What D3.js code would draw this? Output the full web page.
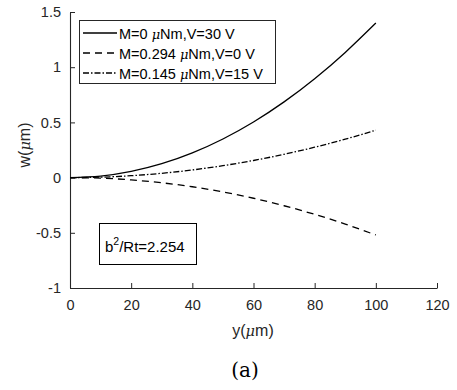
<!DOCTYPE html>
<html><head><meta charset="utf-8">
<script src="https://cdn.jsdelivr.net/npm/d3@7"></script>
<style>body{margin:0;background:#fff}</style>
</head><body>
<svg id="c" width="457" height="390"></svg>
<script>
const xs = [0, 10, 20, 30, 40, 50, 60, 70, 80, 90, 100];
const wSolid = [0, 0.014, 0.056, 0.126, 0.224, 0.35, 0.504, 0.686, 0.896, 1.134, 1.4];
const wDashed = [0, -0.005, -0.021, -0.047, -0.083, -0.13, -0.187, -0.255, -0.333, -0.421, -0.52];
const wDashDot = [0, 0.004, 0.017, 0.039, 0.069, 0.108, 0.155, 0.211, 0.275, 0.348, 0.43];
const xTicks = [0, 20, 40, 60, 80, 100, 120];
const yTicks = [-1, -0.5, 0, 0.5, 1, 1.5];
const yTickLabels = ["-1", "-0.5", "0", "0.5", "1", "1.5"];
const legendLabels = [
  ["M=0 ", "μ", "Nm,V=30 V"],
  ["M=0.294 ", "μ", "Nm,V=0 V"],
  ["M=0.145 ", "μ", "Nm,V=15 V"]
];
const dashes = [null, "7,5", "6,2,1.5,2"];
const series = [wSolid, wDashed, wDashDot];

const svg = d3.select("#c");
const x = d3.scaleLinear().domain([0, 120]).range([70, 437]);
const y = d3.scaleLinear().domain([-1, 1.5]).range([288, 12]);
const axisCol = "#262626";
const font = "'Liberation Sans', Arial, sans-serif";

// axes
const gx = svg.append("g").attr("transform", "translate(0,288)")
  .call(d3.axisBottom(x).tickValues(xTicks).tickSizeInner(-5).tickSizeOuter(0).tickPadding(12));
const gy = svg.append("g").attr("transform", "translate(70,0)")
  .call(d3.axisLeft(y).tickValues(yTicks).tickFormat((d, i) => yTickLabels[i]).tickSizeInner(-5).tickSizeOuter(0).tickPadding(9));
[gx, gy].forEach(g => {
  g.select(".domain").attr("stroke", axisCol).attr("stroke-width", 1.1);
  g.selectAll(".tick line").attr("stroke", axisCol);
  g.selectAll(".tick text").attr("fill", "#262626").attr("font-family", font).attr("font-size", 14.5);
});

// lines
const line = d3.line().x((d, i) => x(xs[i])).y(d => y(d)).curve(d3.curveNatural);
series.forEach((s, i) => {
  svg.append("path").datum(s).attr("d", line).attr("fill", "none")
    .attr("stroke", "#000").attr("stroke-width", 1.3)
    .attr("stroke-dasharray", dashes[i]);
});

// legend
svg.append("rect").attr("x", 79.5).attr("y", 20.5).attr("width", 196).attr("height", 63)
  .attr("fill", "#fff").attr("stroke", axisCol).attr("stroke-width", 1);
legendLabels.forEach((lab, i) => {
  const yy = 33 + i * 20;
  svg.append("line").attr("x1", 83).attr("x2", 117).attr("y1", yy).attr("y2", yy)
    .attr("stroke", "#000").attr("stroke-width", 1.3).attr("stroke-dasharray", dashes[i]);
  const t = svg.append("text").attr("x", 119).attr("y", yy + 5.5)
    .attr("font-family", font).attr("font-size", 14.5).attr("fill", "#000");
  t.append("tspan").text(lab[0]);
  t.append("tspan").attr("font-family", "'DejaVu Serif', serif").attr("font-style", "italic").attr("font-size", 13).text(lab[1]);
  t.append("tspan").text(lab[2]);
});

// annotation box
svg.append("rect").attr("x", 99.5).attr("y", 223.5).attr("width", 97).attr("height", 41)
  .attr("fill", "#fff").attr("stroke", "#000").attr("stroke-width", 1);
const at = svg.append("text").attr("x", 105).attr("y", 252)
  .attr("font-family", font).attr("font-size", 15).attr("fill", "#000");
at.append("tspan").text("b");
at.append("tspan").attr("dy", -7).attr("font-size", 10.5).text("2");
at.append("tspan").attr("dy", 7).text("/Rt=2.254");

// axis labels
const xl = svg.append("text").attr("x", 253).attr("y", 336).attr("text-anchor", "middle")
  .attr("font-family", font).attr("font-size", 16).attr("fill", "#262626");
xl.append("tspan").text("y(");
xl.append("tspan").attr("font-family", "'DejaVu Serif', serif").attr("font-style", "italic").attr("font-size", 14.5).text("μ");
xl.append("tspan").text("m)");
const yl = svg.append("text").attr("transform", "translate(30,145) rotate(-90)").attr("text-anchor", "middle")
  .attr("font-family", font).attr("font-size", 16).attr("fill", "#262626");
yl.append("tspan").text("w(");
yl.append("tspan").attr("font-family", "'DejaVu Serif', serif").attr("font-style", "italic").attr("font-size", 14.5).text("μ");
yl.append("tspan").text("m)");

svg.append("text").attr("x", 245).attr("y", 377).attr("text-anchor", "middle")
  .attr("font-family", "'DejaVu Serif', serif").attr("font-size", 20).attr("fill", "#000").text("(a)");
</script>
</body></html>
